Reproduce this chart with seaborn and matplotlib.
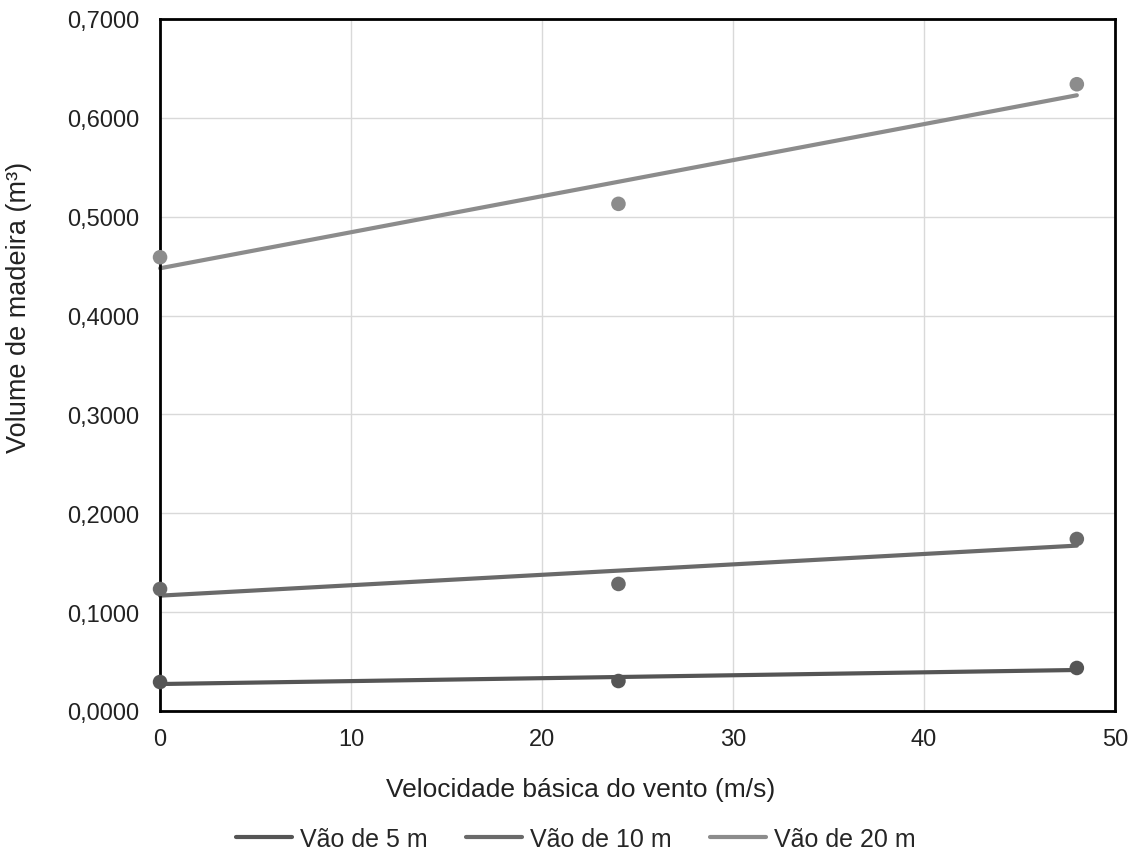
import matplotlib
matplotlib.use("Agg")
import matplotlib.pyplot as plt
import numpy as np
import pandas as pd
import seaborn as sns
from matplotlib.ticker import FuncFormatter

# data
velocidade = [0, 24, 48]
vao_5 = [0.0293, 0.0303, 0.0435]
vao_10 = [0.1234, 0.1285, 0.1740]
vao_20 = [0.4590, 0.5130, 0.6340]
series = ["Vão de 5 m", "Vão de 10 m", "Vão de 20 m"]
colors = ["#555555", "#6a6a6a", "#8c8c8c"]

df = pd.DataFrame({
    "v": velocidade * 3,
    "vol": vao_5 + vao_10 + vao_20,
    "serie": [s for s in series for _ in velocidade],
})

sns.set_theme(style="white")
plt.rcParams["font.family"] = ["Liberation Sans", "DejaVu Sans"]

fig = plt.figure(figsize=(11.4, 8.54), dpi=100)
ax = fig.add_axes([0.1404, 0.1663, 0.8377, 0.8103])

for s, c in zip(series, colors):
    sub = df[df["serie"] == s]
    sns.regplot(data=sub, x="v", y="vol", ci=None, ax=ax, color=c,
                scatter_kws={"s": 110, "alpha": 1, "edgecolor": "none",
                             "zorder": 3, "clip_on": False},
                line_kws={"lw": 3, "label": s, "zorder": 2, "clip_on": False})

ax.set_xlim(0, 50)
ax.set_ylim(0, 0.7)
ax.set_xticks(np.arange(0, 51, 10))
ax.set_yticks(np.arange(0, 0.71, 0.1))
ax.yaxis.set_major_formatter(FuncFormatter(lambda y, _: f"{y:.4f}".replace(".", ",")))
ax.grid(True, color="#d9d9d9", lw=1)
ax.set_axisbelow(True)
for sp in ax.spines.values():
    sp.set_color("black")
    sp.set_linewidth(2)
ax.tick_params(axis="both", labelsize=17, labelcolor="#222222", length=4, width=1)
ax.tick_params(axis="x", color="#bbbbbb", pad=8)
ax.tick_params(axis="y", length=0, pad=15)
ax.set_xlabel("Velocidade básica do vento (m/s)", fontsize=19, color="#222222")
ax.set_ylabel("Volume de madeira (m³)", fontsize=19.5, color="#222222")
# labels sit off-centre in the original
ax.xaxis.set_label_coords(0.44, -0.095)
ax.yaxis.set_label_coords(-0.134, 0.585)

handles, labels = ax.get_legend_handles_labels()
fig.legend(handles, labels, loc="lower center", ncol=3, frameon=False,
           fontsize=18, handlelength=2.25, handletextpad=0.3, columnspacing=1.55,
           bbox_to_anchor=(0.505, -0.024))

fig.savefig("out.png", dpi=100)
